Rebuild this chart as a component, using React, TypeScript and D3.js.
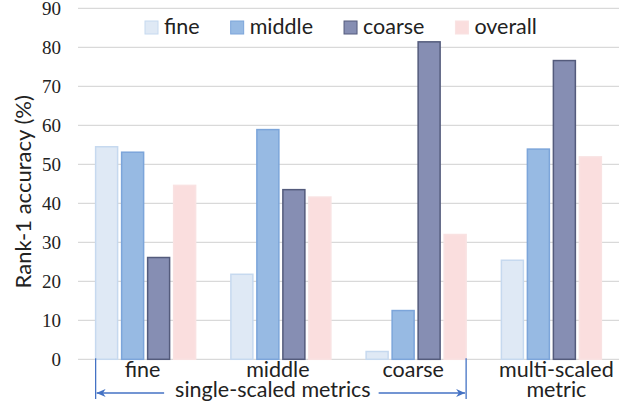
import React, { useEffect, useRef } from "react";
import * as d3 from "d3";

const categories = ["fine", "middle", "coarse", "multi"];
const categoryLabels = [["fine"], ["middle"], ["coarse"], ["multi-scaled", "metric"]];
const seriesNames = ["fine", "middle", "coarse", "overall"];
const fineValues = [54.5, 21.8, 2.0, 25.4];
const middleValues = [53.1, 58.9, 12.5, 53.9];
const coarseValues = [26.1, 43.5, 81.4, 76.6];
const overallValues = [44.6, 41.6, 32.0, 51.9];
const yTicks = [0, 10, 20, 30, 40, 50, 60, 70, 80, 90];
const bracketLabel = "single-scaled metrics";

const fills = ["#dfe9f5", "#97bae3", "#868eb3", "#fadede"];
const strokes = ["#c6d9ef", "#7ca5da", "#545b7c", "#f9e2e2"];

const SANS = "Lato, 'Open Sans', sans-serif";
const SERIF = "'Liberation Serif', 'DejaVu Serif', serif";

const App: React.FC = () => {
  const svgRef = useRef<SVGSVGElement>(null);

  useEffect(() => {
    const width = 622;
    const height = 406;
    const values = [fineValues, middleValues, coarseValues, overallValues];

    const svg = d3.select(svgRef.current);
    svg.selectAll("*").remove();
    svg.attr("width", width).attr("height", height);

    const x = d3.scaleBand<string>().domain(categories).range([78, 619]);
    const xSub = d3
      .scaleBand<string>()
      .domain(seriesNames)
      .range([0, 100])
      .paddingInner(0.154);
    const subOffset = (x.bandwidth() - 100) / 2;
    const y = d3.scaleLinear().domain([0, 90]).range([359.3, 8.3]);

    // gridlines
    svg
      .append("g")
      .selectAll("line")
      .data(yTicks)
      .enter()
      .append("line")
      .attr("x1", 78)
      .attr("x2", 619)
      .attr("y1", (d) => y(d))
      .attr("y2", (d) => y(d))
      .attr("stroke", "#d9d9d9")
      .attr("stroke-width", 1.3);

    // tick labels
    svg
      .append("g")
      .selectAll("text")
      .data(yTicks)
      .enter()
      .append("text")
      .attr("x", 61)
      .attr("y", (d) => y(d) + 6.5)
      .attr("text-anchor", "end")
      .attr("font-family", SERIF)
      .attr("font-size", 19)
      .attr("fill", "#222")
      .text((d) => d);

    // y axis title
    svg
      .append("text")
      .attr("transform", `translate(31, ${(y(0) + y(90)) / 2 + 8}) rotate(-90)`)
      .attr("text-anchor", "middle")
      .attr("font-family", SANS)
      .attr("font-size", 22)
      .attr("fill", "#222")
      .text("Rank-1 accuracy (%)");

    // bars
    seriesNames.forEach((s, si) => {
      svg
        .append("g")
        .selectAll("rect")
        .data(categories)
        .enter()
        .append("rect")
        .attr("x", (c) => (x(c) as number) + subOffset + (xSub(s) as number))
        .attr("y", (_, i) => y(values[si][i]))
        .attr("width", xSub.bandwidth())
        .attr("height", (_, i) => y(0) - y(values[si][i]))
        .attr("fill", fills[si])
        .attr("stroke", strokes[si])
        .attr("stroke-width", 1.5);
    });

    // category labels
    const cat = svg
      .append("g")
      .selectAll("text")
      .data(categories)
      .enter()
      .append("text")
      .attr("text-anchor", "middle")
      .attr("font-family", SANS)
      .attr("font-size", 21.5)
      .attr("fill", "#222");
    cat
      .selectAll("tspan")
      .data((_, i) => categoryLabels[i].map((t) => ({ t, i })))
      .enter()
      .append("tspan")
      .attr("x", (d) => (x(categories[d.i]) as number) + x.bandwidth() / 2 + (d.i === 3 ? 5 : -3))
      .attr("y", (_, j) => 377 + j * 20)
      .text((d) => d.t);

    // bracket for single-scaled metrics
    const blue = "#4472c4";
    const bx0 = (x("fine") as number) + subOffset + (xSub("fine") as number);
    const bx1 =
      (x("coarse") as number) + subOffset + (xSub("overall") as number) + xSub.bandwidth();
    const by = 393;
    const labelCx = (bx0 + bx1) / 2 - 8;

    svg
      .append("defs")
      .append("marker")
      .attr("id", "arrowHead")
      .attr("viewBox", "0 -5 10 10")
      .attr("refX", 10)
      .attr("refY", 0)
      .attr("markerWidth", 9)
      .attr("markerHeight", 9)
      .attr("markerUnits", "userSpaceOnUse")
      .attr("orient", "auto")
      .append("path")
      .attr("d", "M0,-4.5 L10,0 L0,4.5 L3,0 Z")
      .attr("fill", blue);

    const br = svg.append("g").attr("stroke", blue).attr("stroke-width", 1.3);
    [bx0, bx1].forEach((bx) => {
      br.append("line").attr("x1", bx).attr("x2", bx).attr("y1", y(0) - 1).attr("y2", 399);
    });

    const lbl = svg
      .append("text")
      .attr("x", labelCx)
      .attr("y", 397)
      .attr("text-anchor", "middle")
      .attr("font-family", SANS)
      .attr("font-size", 21.5)
      .attr("fill", "#222")
      .text(bracketLabel);
    const half = (lbl.node() as SVGTextElement).getComputedTextLength() / 2;

    br.append("line")
      .attr("x1", labelCx - half - 11)
      .attr("x2", bx0 + 1)
      .attr("y1", by)
      .attr("y2", by)
      .attr("marker-end", "url(#arrowHead)");
    br.append("line")
      .attr("x1", labelCx + half + 8)
      .attr("x2", bx1 - 1)
      .attr("y1", by)
      .attr("y2", by)
      .attr("marker-end", "url(#arrowHead)");

    // legend
    const legend = svg.append("g");
    let lx = 145;
    seriesNames.forEach((s, si) => {
      legend
        .append("rect")
        .attr("x", lx)
        .attr("y", 21)
        .attr("width", 13)
        .attr("height", 13)
        .attr("fill", fills[si])
        .attr("stroke", strokes[si])
        .attr("stroke-width", 1);
      const t = legend
        .append("text")
        .attr("x", lx + 19)
        .attr("y", 33.5)
        .attr("font-family", SANS)
        .attr("font-size", 21.5)
        .attr("fill", "#222")
        .text(s);
      lx += 19 + (t.node() as SVGTextElement).getComputedTextLength() + 31;
    });
  }, []);

  return (
    <svg
      ref={svgRef}
      style={{ position: "absolute", left: 0, top: 0, background: "#fff" }}
    ></svg>
  );
};

export default App;
